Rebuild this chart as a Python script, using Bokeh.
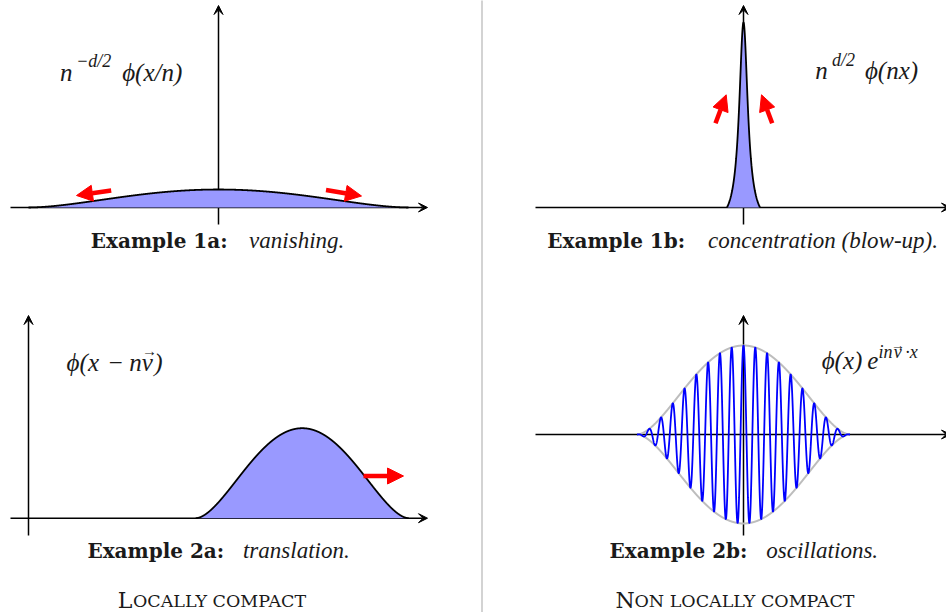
import numpy as np
from bokeh.plotting import figure
from bokeh.models import Arrow, VeeHead, NormalHead, Range1d, ColumnDataSource
from bokeh.core.properties import value
from bokeh.embed import file_html
from bokeh.resources import INLINE

# ---------------- values (pixel units) ----------------
panel          = ["1a", "1b", "2a", "2b"]
profile_center = [218.0, 743.0, 301.7, 743.0]   # x of the maximum
profile_half   = [190.0, 16.5, 106.5, 106.5]    # half-width of the support
profile_height = [18.0, 185.0, 90.0, 89.0]      # height of the maximum
profile_base   = [207.0, 207.0, 517.7, 434.0]   # y of the horizontal axis
bump_power     = 1.8                            # bump (1 - t^2)^p
spike_core     = 5.2                            # core half-width of the blow-up spike
osc_period     = 11.8                           # wavelength of the oscillation (2b)

# axis arrows (start -> tip)
axis_x0 = [10, 218, 535, 743, 10, 28, 535, 743]
axis_y0 = [207, 224, 207, 224, 517.7, 535, 434, 535]
axis_x1 = [427, 218, 950, 743, 427, 28, 950, 743]
axis_y1 = [207, 5, 207, 5, 517.7, 315, 434, 315]

# red arrows (tail -> tip)
red_x0 = [110.7, 325.5, 715.0, 771.7, 363.0]
red_y0 = [190.0, 189.5, 122.7, 122.7, 475.5]
red_x1 = [76.0, 361.0, 725.7, 761.0, 403.0]
red_y1 = [195.0, 195.5, 94.3, 94.3, 475.5]

# formula labels, split into pieces (main size / superscript size)
main_text = ["n", "\u03d5(x/n)", "n", "\u03d5(nx)", "\u03d5(x", "\u2212", "nv", ")", "\u03d5(x)", "e"]
main_cx   = [65.8, 151.7, 821.0, 891.0, 82.3, 115.0, 140.5, 157.8, 841.5, 872.3]
main_base = [80.0, 80.0, 78.0, 78.0, 370.0, 370.0, 370.0, 370.0, 368.0, 368.0]
sup_text  = ["\u2212d/2", "d/2", "in", "v", "\u00b7x"]
sup_cx    = [93.3, 843.0, 885.0, 897.2, 911.0]
sup_base  = [68.5, 67.0, 359.3, 359.3, 359.3]
vec_text  = ["\u2192", "\u2192"]
vec_cx    = [149.0, 897.5]
vec_base  = [358.0, 352.5]
vec_size  = ["15px", "14px"]

# captions
cap_bold    = ["Example 1a:", "Example 1b:", "Example 2a:", "Example 2b:"]
cap_bold_cx = [158.7, 615.7, 155.3, 678.0]
cap_ital    = ["vanishing.", "concentration (blow-up).", "translation.", "oscillations."]
cap_ital_cx = [296.2, 822.5, 295.8, 821.7]
cap_base    = [248.0, 248.0, 558.0, 558.0]

# column titles (small capitals)
sc_big      = ["L", "N"]
sc_big_cx   = [124.5, 624.5]
sc_small    = ["OCALLY COMPACT", "ON LOCALLY COMPACT"]
sc_small_x0 = [132.5, 634.0]
sc_base     = [608.0, 608.0]

separator_x = 481.5

# ---------------- figure ----------------
SERIF = value("DejaVu Serif")
TIMES = value("Liberation Serif")
TEXT_DY = -8.0      # the renderer sets text baselines about 8px low
W, H = 946, 612
p = figure(width=W, height=H, x_range=Range1d(0, W), y_range=Range1d(H, 0),
           output_backend="svg", toolbar_location=None,
           x_axis_type=None, y_axis_type=None, min_border=0)
p.outline_line_color = None
p.background_fill_color = "white"
p.border_fill_color = "white"


def ty(vals):
    return [v + TEXT_DY for v in vals]


# separator
p.segment(x0=[separator_x], y0=[-10], x1=[separator_x], y1=[H + 10],
          line_color="#c4c4c4", line_width=1.5)

# axes (drawn underneath the curves)
axes = Arrow(source=ColumnDataSource(dict(x0=axis_x0, y0=axis_y0, x1=axis_x1, y1=axis_y1)),
             x_start="x0", y_start="y0", x_end="x1", y_end="y1",
             line_color="black", line_width=1.5,
             end=VeeHead(size=9, fill_color="black", line_color="black", line_width=1),
             level="underlay")
p.add_layout(axes)


def bump(t):
    return np.clip(1.0 - t ** 2, 0.0, None) ** bump_power


def spike(t, w):
    g = spike_core / w
    l = 1.0 / (1.0 + (t / g) ** 2)
    l0 = 1.0 / (1.0 + (1.0 / g) ** 2)
    return np.clip((l - l0) / (1.0 - l0), 0.0, None)


for i, name in enumerate(panel):
    c, w, h, b = profile_center[i], profile_half[i], profile_height[i], profile_base[i]
    x = np.linspace(c - w, c + w, 2401)
    t = (x - c) / w
    prof = spike(t, w) if name == "1b" else bump(t)
    if name == "2b":
        p.line(x, b - h * prof, line_color="#bdbdbd", line_width=2)
        p.line(x, b + h * prof, line_color="#bdbdbd", line_width=2)
        wave = b - h * prof * np.cos(2 * np.pi * (x - c) / osc_period)
        p.line(x, wave, line_color="#0000ff", line_width=1.8)
    else:
        y = b - h * prof
        p.varea(x=x, y1=np.full_like(x, b), y2=y, fill_color="#9999ff")
        p.line(x, y, line_color="black", line_width=1.8)

# red arrows
red = Arrow(source=ColumnDataSource(dict(x0=red_x0, y0=red_y0, x1=red_x1, y1=red_y1)),
            x_start="x0", y_start="y0", x_end="x1", y_end="y1",
            line_color="#ff0000", line_width=4.5,
            end=NormalHead(size=16, fill_color="#ff0000", line_color="#ff0000", line_width=1))
p.add_layout(red)

INK = "#1a1a1a"
# formula labels
p.text(x=main_cx, y=ty(main_base), text=main_text, text_font=TIMES, text_font_style="italic",
       text_font_size="25px", text_align="center", text_baseline="alphabetic", text_color=INK)
p.text(x=sup_cx, y=ty(sup_base), text=sup_text, text_font=TIMES, text_font_style="italic",
       text_font_size="18px", text_align="center", text_baseline="alphabetic", text_color=INK)
p.text(x=vec_cx, y=ty(vec_base), text=vec_text, text_font=TIMES, text_font_size=vec_size,
       text_align="center", text_baseline="alphabetic", text_color=INK)

# captions
p.text(x=cap_bold_cx, y=ty(cap_base), text=cap_bold, text_font=SERIF, text_font_style="bold",
       text_font_size="20px", text_align="center", text_baseline="alphabetic", text_color=INK)
p.text(x=cap_ital_cx, y=ty(cap_base), text=cap_ital, text_font=TIMES, text_font_style="italic",
       text_font_size="23px", text_align="center", text_baseline="alphabetic", text_color=INK)

# column titles
p.text(x=sc_big_cx, y=ty(sc_base), text=sc_big, text_font=SERIF, text_font_size="22px",
       text_align="center", text_baseline="alphabetic", text_color=INK)
p.text(x=sc_small_x0, y=ty(sc_base), text=sc_small, text_font=SERIF, text_font_size="17.5px",
       text_align="left", text_baseline="alphabetic", text_color=INK)

open("out.html", "w").write(file_html(p, INLINE))
